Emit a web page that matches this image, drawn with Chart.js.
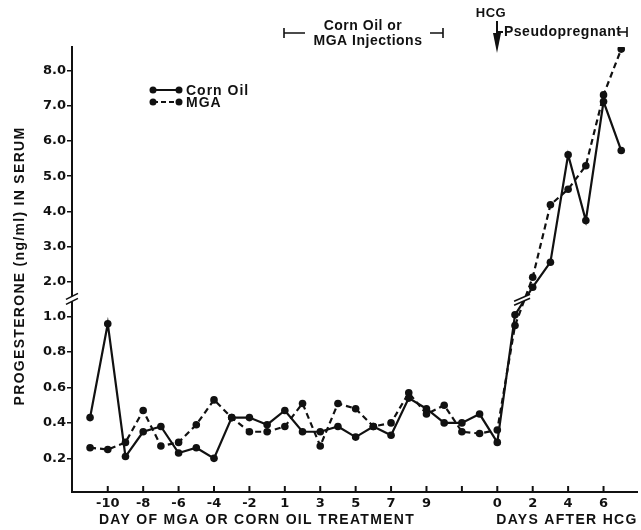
<!DOCTYPE html>
<html>
<head>
<meta charset="utf-8">
<script src="https://cdn.jsdelivr.net/npm/chart.js@4.4.2/dist/chart.umd.min.js"></script>
<style>
  html, body { margin: 0; padding: 0; background: #fff; }
</style>
</head>
<body>
<canvas id="chart" width="641" height="530"></canvas>
<script>
// Days of MGA / corn oil treatment (no day 0), then days after HCG
const TREAT_DAYS = [-11, -10, -9, -8, -7, -6, -5, -4, -3, -2, -1, 1, 2, 3, 4, 5, 6, 7, 8, 9, 10, 11, 12];
const HCG_DAYS   = [0, 1, 2, 3, 4, 5, 6, 7];

// Progesterone (ng/ml) in serum, treatment days first, then HCG days
const CORN_OIL = [0.43, 0.96, 0.21, 0.35, 0.38, 0.23, 0.26, 0.20, 0.43, 0.43, 0.39, 0.47,
                  0.35, 0.35, 0.38, 0.32, 0.38, 0.33, 0.54, 0.48, 0.40, 0.40, 0.45,
                  0.29, 1.01, 1.85, 2.56, 5.61, 3.74, 7.12, 5.73];
const MGA      = [0.26, 0.25, 0.29, 0.47, 0.27, 0.29, 0.39, 0.53, 0.43, 0.35, 0.35, 0.38,
                  0.51, 0.27, 0.51, 0.48, 0.38, 0.40, 0.57, 0.45, 0.50, 0.35, 0.34,
                  0.36, 0.95, 2.13, 4.19, 4.63, 5.30, 7.31, 8.61];

// Tick labels
const TREAT_TICKS = [-10, -8, -6, -4, -2, 1, 3, 5, 7, 9, 11];
const TREAT_TICK_LABELS = ['-10', '-8', '-6', '-4', '-2', '1', '3', '5', '7', '9', ''];
const HCG_TICKS = [0, 2, 4, 6];
const Y_TICKS = [0.2, 0.4, 0.6, 0.8, 1.0, 2.0, 3.0, 4.0, 5.0, 6.0, 7.0, 8.0];

// ── Axis mapping ──────────────────────────────────────────────
// treatment days skip 0; HCG day 0 sits two slots after treatment day 11
const treatPos = d => (d < 0 ? d + 10 : d + 9);
const hcgPos = d => d + 22;
// broken y axis: 0–1 at full scale, 2–8 compressed above the break
const BREAK_T = 1.196, UPPER_K = 0.1988;
const toT = v => (v <= 1.5 ? v : BREAK_T + (v - 2) * UPPER_K);

const X_POS = TREAT_DAYS.map(treatPos).concat(HCG_DAYS.map(hcgPos));
const X_TICK_POS = TREAT_TICKS.map(treatPos).concat(HCG_TICKS.map(hcgPos));
const X_TICK_LABELS = TREAT_TICK_LABELS.concat(HCG_TICKS.map(String));

const toPoints = arr => arr.map((v, i) => ({ x: X_POS[i], y: toT(v) }));

const BLACK = '#111';
const TEXT_FONT = 'bold 14px "Liberation Sans", Arial, sans-serif';

function drawBreak(ctx, cx, cy, half, rise, gap) {
  ctx.save();
  ctx.fillStyle = '#fff';
  ctx.beginPath();
  ctx.moveTo(cx - half, cy + rise - gap / 2);
  ctx.lineTo(cx + half, cy - rise - gap / 2);
  ctx.lineTo(cx + half, cy - rise + gap / 2);
  ctx.lineTo(cx - half, cy + rise + gap / 2);
  ctx.closePath();
  ctx.fill();
  ctx.strokeStyle = BLACK;
  ctx.lineWidth = 1.6;
  [-gap / 2, gap / 2].forEach(o => {
    ctx.beginPath();
    ctx.moveTo(cx - half, cy + rise + o);
    ctx.lineTo(cx + half, cy - rise + o);
    ctx.stroke();
  });
  ctx.restore();
}

const decor = {
  id: 'decor',
  afterDraw(chart) {
    const { ctx, chartArea: a, scales: { x, y } } = chart;
    ctx.save();
    ctx.strokeStyle = BLACK;
    ctx.fillStyle = BLACK;

    // inward tick marks on the x axis
    ctx.lineWidth = 2;
    x.ticks.forEach(t => {
      const px = x.getPixelForValue(t.value);
      ctx.beginPath();
      ctx.moveTo(px, a.bottom);
      ctx.lineTo(px, a.bottom - 6);
      ctx.stroke();
    });

    // axis break and break across the data lines
    drawBreak(ctx, a.left, y.getPixelForValue(1.1), 6, 3, 5);
    drawBreak(ctx, x.getPixelForValue(23.4), y.getPixelForValue(1.095), 8, 3.5, 4);

    // axis titles
    ctx.font = TEXT_FONT;
    ctx.letterSpacing = '1.3px';
    ctx.textAlign = 'center';
    ctx.textBaseline = 'middle';
    ctx.save();
    ctx.translate(20, 266);
    ctx.rotate(-Math.PI / 2);
    ctx.fillText('PROGESTERONE (ng/ml) IN SERUM', 0, 0);
    ctx.restore();
    ctx.fillText('DAY OF MGA OR CORN OIL TREATMENT', 257, 520);
    ctx.fillText('DAYS AFTER HCG', 567, 520);

    // legend
    ctx.letterSpacing = '1px';
    ctx.textAlign = 'left';
    [['Corn Oil', [], 90], ['MGA', [5, 3], 102]].forEach(([label, dash, ly]) => {
      ctx.lineWidth = 2;
      ctx.setLineDash(dash);
      ctx.beginPath();
      ctx.moveTo(153, ly);
      ctx.lineTo(179, ly);
      ctx.stroke();
      ctx.setLineDash([]);
      [153, 179].forEach(px => {
        ctx.beginPath();
        ctx.arc(px, ly, 3.5, 0, Math.PI * 2);
        ctx.fill();
      });
      ctx.fillText(label, 186, ly + 1);
    });

    // injection period annotation
    ctx.letterSpacing = '0.5px';
    ctx.textAlign = 'center';
    ctx.fillText('Corn Oil or', 363, 26);
    ctx.fillText('MGA Injections', 368, 41);
    ctx.lineWidth = 1.6;
    ctx.beginPath();
    ctx.moveTo(284, 28); ctx.lineTo(284, 38);
    ctx.moveTo(284, 33); ctx.lineTo(305, 33);
    ctx.moveTo(430, 33); ctx.lineTo(443, 33);
    ctx.moveTo(443, 28); ctx.lineTo(443, 38);
    ctx.stroke();

    // HCG arrow and pseudopregnant period
    ctx.font = 'bold 13px "Liberation Sans", Arial, sans-serif';
    ctx.fillText('HCG', 491, 13);
    ctx.lineWidth = 2;
    ctx.beginPath();
    ctx.moveTo(497, 21); ctx.lineTo(497, 40);
    ctx.moveTo(497, 32); ctx.lineTo(503, 32);
    ctx.stroke();
    ctx.beginPath();
    ctx.moveTo(493, 33); ctx.lineTo(501, 33); ctx.lineTo(497, 53);
    ctx.closePath();
    ctx.fill();
    ctx.font = TEXT_FONT;
    ctx.textAlign = 'left';
    ctx.fillText('Pseudopregnant', 504, 32);
    ctx.lineWidth = 1.6;
    ctx.beginPath();
    ctx.moveTo(619, 32); ctx.lineTo(627, 32);
    ctx.moveTo(627, 27); ctx.lineTo(627, 37);
    ctx.stroke();

    ctx.restore();
  }
};

const tickFont = { family: 'DejaVu Sans', weight: 'bold', size: 13 };

new Chart(document.getElementById('chart'), {
  type: 'line',
  data: {
    datasets: [
      {
        label: 'Corn Oil',
        data: toPoints(CORN_OIL),
        borderColor: BLACK,
        backgroundColor: BLACK,
        borderWidth: 2.2,
        pointRadius: 3.8,
        pointBorderWidth: 0,
        tension: 0,
      },
      {
        label: 'MGA',
        data: toPoints(MGA),
        borderColor: BLACK,
        backgroundColor: BLACK,
        borderWidth: 2.2,
        borderDash: [6, 4],
        pointRadius: 3.8,
        pointBorderWidth: 0,
        tension: 0,
      },
    ],
  },
  options: {
    responsive: false,
    animation: false,
    devicePixelRatio: 1,
    layout: { padding: { top: 47, right: 1, left: 0, bottom: 0 } },
    plugins: { legend: { display: false }, tooltip: { enabled: false } },
    scales: {
      x: {
        type: 'linear',
        min: -2.02,
        max: 29.89,
        afterFit: s => { s.height = 38; },
        afterBuildTicks: s => { s.ticks = X_TICK_POS.map(v => ({ value: v })); },
        grid: { display: false, drawTicks: false },
        border: { display: true, color: BLACK, width: 2 },
        ticks: {
          autoSkip: false,
          maxRotation: 0,
          padding: 4,
          color: BLACK,
          font: tickFont,
          callback: (v, i) => X_TICK_LABELS[i],
        },
      },
      y: {
        type: 'linear',
        min: 0.01,
        max: 2.522,
        afterFit: s => { s.width = 72; },
        afterBuildTicks: s => { s.ticks = Y_TICKS.map(v => ({ value: toT(v) })); },
        grid: { drawOnChartArea: false, tickLength: 5, color: BLACK, lineWidth: 1.5 },
        border: { display: true, color: BLACK, width: 2 },
        ticks: {
          autoSkip: false,
          padding: 1,
          color: BLACK,
          font: tickFont,
          callback: (v, i) => Y_TICKS[i].toFixed(1),
        },
      },
    },
  },
  plugins: [decor],
});
</script>
</body>
</html>
